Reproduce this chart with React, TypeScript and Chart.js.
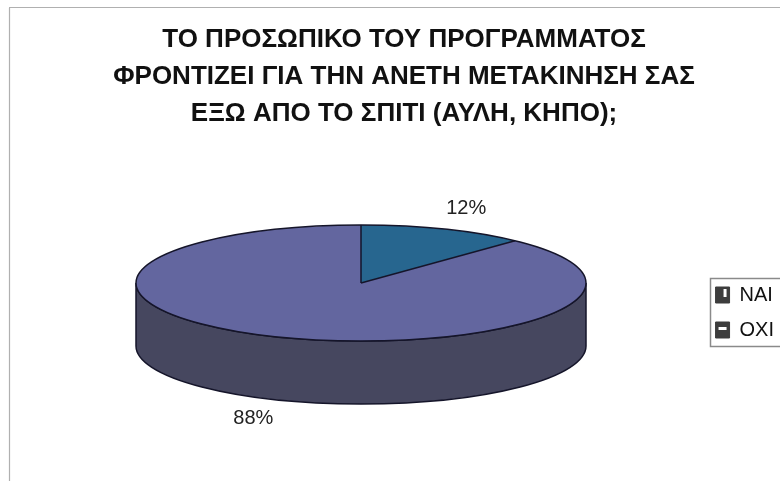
import React, { useEffect, useRef } from "react";
import { Chart, registerables } from "chart.js";

Chart.register(...registerables);

const categories = ["ΝΑΙ", "ΟΧΙ"];
const shares = [12, 88];
const sliceColors = ["#27668f", "#63669f"];
const sideColor = "#46475f";
const outlineColor = "#15152a";
const titleLines = [
  "ΤΟ ΠΡΟΣΩΠΙΚΟ ΤΟΥ ΠΡΟΓΡΑΜΜΑΤΟΣ",
  "ΦΡΟΝΤΙΖΕΙ ΓΙΑ ΤΗΝ ΑΝΕΤΗ ΜΕΤΑΚΙΝΗΣΗ ΣΑΣ",
  "ΕΞΩ ΑΠΟ ΤΟ ΣΠΙΤΙ (ΑΥΛΗ, ΚΗΠΟ);",
];

const FONT = "'Liberation Sans', Arial, sans-serif";
const PIE = { cx: 361, cy: 283, rx: 225, ry: 58, depth: 63 };
const LABEL_REACH = [
  { x: 1.27, y: 1.39, drop: 0 },
  { x: 1.3, y: 1.35, drop: 1 },
];

const pie3d = {
  id: "pie3d",
  beforeDatasetsDraw(chart: any) {
    const arc = chart.getDatasetMeta(0).data[0];
    const ctx = chart.ctx;
    const { cx, cy, rx, ry, depth } = PIE;
    // extruded rim below the top face
    ctx.save();
    ctx.beginPath();
    ctx.ellipse(cx, cy, rx, ry, 0, 0, Math.PI);
    ctx.lineTo(cx - rx, cy + depth);
    ctx.ellipse(cx, cy + depth, rx, ry, 0, Math.PI, 0, true);
    ctx.closePath();
    ctx.fillStyle = sideColor;
    ctx.fill();
    ctx.strokeStyle = outlineColor;
    ctx.lineWidth = 1.5;
    ctx.stroke();
    ctx.restore();
    // squash the library's own arcs into the top ellipse
    ctx.save();
    ctx.translate(cx, cy);
    ctx.scale(rx / arc.outerRadius, ry / arc.outerRadius);
    ctx.translate(-arc.x, -arc.y);
  },
  afterDatasetsDraw(chart: any) {
    const ctx = chart.ctx;
    ctx.restore();
    const { cx, cy, rx, ry, depth } = PIE;
    const arcs = chart.getDatasetMeta(0).data;
    ctx.save();
    ctx.strokeStyle = outlineColor;
    ctx.lineWidth = 1.5;
    ctx.beginPath();
    ctx.ellipse(cx, cy, rx, ry, 0, 0, Math.PI * 2);
    ctx.stroke();
    arcs.forEach((a: any) => {
      ctx.beginPath();
      ctx.moveTo(cx, cy);
      ctx.lineTo(cx + rx * Math.cos(a.startAngle), cy + ry * Math.sin(a.startAngle));
      ctx.stroke();
    });
    // percentage labels
    ctx.fillStyle = "#222222";
    ctx.font = `20px ${FONT}`;
    ctx.textAlign = "center";
    ctx.textBaseline = "middle";
    arcs.forEach((a: any, i: number) => {
      const mid = (a.startAngle + a.endAngle) / 2;
      const r = LABEL_REACH[i];
      const x = cx + rx * r.x * Math.cos(mid);
      const y = cy + ry * r.y * Math.sin(mid) + depth * r.drop;
      ctx.fillText(`${shares[i]}%`, x, y);
    });
    ctx.restore();
  },
  afterDraw(chart: any) {
    const ctx = chart.ctx;
    const boxes = chart.legend.legendHitBoxes;
    ctx.save();
    // legend frame
    ctx.strokeStyle = "#8a8a8a";
    ctx.lineWidth = 1.5;
    ctx.strokeRect(710.5, 278.5, 80, 68);
    // pale marks left inside the legend swatches by the scan
    ctx.fillStyle = "#ffffff";
    const b0 = boxes[0];
    const b1 = boxes[1];
    ctx.fillRect(b0.left + 8, b0.top + 4, 3, 8);
    ctx.fillRect(b1.left + 3, b1.top + 7, 8, 3);
    // scanned outer frame
    ctx.strokeStyle = "#b0b0b0";
    ctx.lineWidth = 1.2;
    ctx.beginPath();
    ctx.moveTo(9.5, 8);
    ctx.lineTo(9.5, 481);
    ctx.moveTo(9, 7.5);
    ctx.lineTo(780, 7.5);
    ctx.stroke();
    ctx.restore();
  },
};

export default function App() {
  const ref = useRef<HTMLCanvasElement>(null);
  useEffect(() => {
    document.body.style.margin = "0";
    const chart = new Chart(ref.current!, {
      type: "pie",
      data: {
        labels: categories,
        datasets: [
          {
            data: shares,
            backgroundColor: sliceColors,
            borderWidth: 0,
            clip: false,
            radius: 220,
          } as any,
        ],
      },
      options: {
        responsive: false,
        animation: false,
        layout: { padding: { left: 24, top: 21, bottom: 126, right: -4 } },
        plugins: {
          tooltip: { enabled: false },
          title: {
            display: true,
            text: titleLines,
            color: "#111111",
            font: { family: FONT, size: 26, weight: "bold", lineHeight: 1.423 },
            padding: 0,
          },
          legend: {
            position: "right",
            align: "end",
            labels: {
              color: "#111111",
              font: { family: FONT, size: 20 },
              boxWidth: 14,
              boxHeight: 16,
              padding: 15,
              generateLabels: () =>
                categories.map((text, index) => ({
                  text,
                  index,
                  fillStyle: "#3d3d3d",
                  strokeStyle: "#3d3d3d",
                  lineWidth: 1,
                  fontColor: "#111111",
                  hidden: false,
                })),
            },
          },
        },
      },
      plugins: [pie3d],
    } as any);
    return () => chart.destroy();
  }, []);
  return <canvas ref={ref} width={780} height={481} style={{ display: "block", background: "#fff" }} />;
}
